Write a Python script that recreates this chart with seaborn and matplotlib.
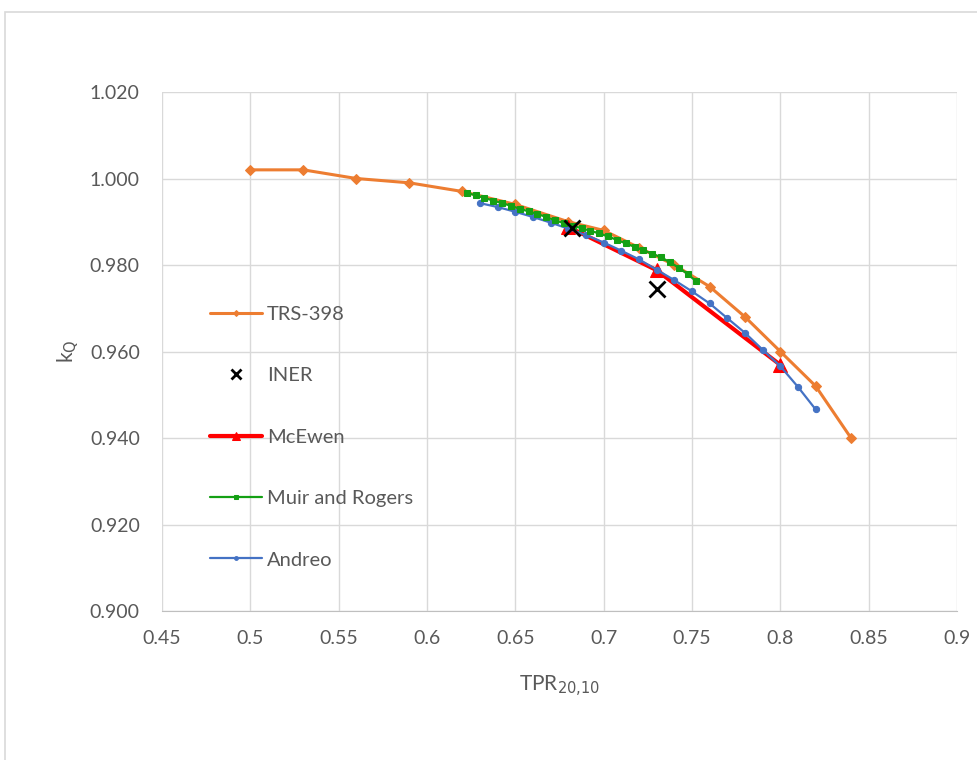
"""
plot.py
kQ vs TPR20,10 comparison chart (TRS-398, INER, McEwen, Muir and Rogers, Andreo).
"""

import numpy as np
import pandas as pd
import matplotlib.pyplot as plt
import matplotlib.patches as mpatches
import seaborn as sns

# ── data ─────────────────────────────────────────────────────────────────────
trs_x = [0.50, 0.53, 0.56, 0.59, 0.62, 0.65, 0.68, 0.70, 0.72, 0.74, 0.76, 0.78, 0.80, 0.82, 0.84]
trs_y = [1.002, 1.002, 1.000, 0.999, 0.997, 0.994, 0.990, 0.988, 0.984, 0.980, 0.975, 0.968, 0.960, 0.952, 0.940]

iner_x = [0.682, 0.730]
iner_y = [0.9886, 0.9744]

mcewen_x = [0.680, 0.730, 0.800]
mcewen_y = [0.9888, 0.9788, 0.9569]

muir_x = [0.6225, 0.6275, 0.6325, 0.6375, 0.6425, 0.6475, 0.6525, 0.6575, 0.6625,
          0.6675, 0.6725, 0.6775, 0.6825, 0.6875, 0.6925, 0.6975, 0.7025, 0.7075,
          0.7125, 0.7175, 0.7225, 0.7275, 0.7325, 0.7375, 0.7425, 0.7475, 0.7525]
muir_y = [0.9967, 0.9961, 0.9955, 0.9949, 0.9943, 0.9937, 0.9930, 0.9924, 0.9918,
          0.9911, 0.9903, 0.9897, 0.9891, 0.9885, 0.9879, 0.9873, 0.9866, 0.9858,
          0.9850, 0.9842, 0.9834, 0.9826, 0.9818, 0.9806, 0.9794, 0.9779, 0.9762]

andreo_x = [0.63, 0.64, 0.65, 0.66, 0.67, 0.68, 0.69, 0.70, 0.71, 0.72,
            0.73, 0.74, 0.75, 0.76, 0.77, 0.78, 0.79, 0.80, 0.81, 0.82]
andreo_y = [0.9943, 0.9934, 0.9923, 0.9911, 0.9898, 0.9884, 0.9869, 0.9852, 0.9833, 0.9813,
            0.9789, 0.9765, 0.9739, 0.9711, 0.9677, 0.9643, 0.9604, 0.9566, 0.9518, 0.9466]

x_ticks = [0.45, 0.5, 0.55, 0.6, 0.65, 0.7, 0.75, 0.8, 0.85, 0.9]
x_tick_labels = ["0.45", "0.5", "0.55", "0.6", "0.65", "0.7", "0.75", "0.8", "0.85", "0.9"]
y_ticks = [0.900, 0.920, 0.940, 0.960, 0.980, 1.000, 1.020]
y_tick_labels = ["0.900", "0.920", "0.940", "0.960", "0.980", "1.000", "1.020"]

ORANGE = "#ED7D31"
RED    = "#FF0000"
GREEN  = "#14A014"
BLUE   = "#4472C4"
GRID   = "#D9D9D9"
TEXT   = "#595959"

sns.set_style("white")
plt.rcParams["font.family"] = ["Lato", "DejaVu Sans"]

fig = plt.figure(figsize=(9.78, 7.6), dpi=100)
ax = fig.add_axes([162 / 978, 1 - 611 / 760, 795 / 978, 519 / 760])

# chart frame (light border)
fig.patches.append(mpatches.Rectangle((5 / 978, -0.1), 1.1, (760 - 12) / 760 + 0.1,
                                      transform=fig.transFigure, fill=False,
                                      edgecolor=GRID, linewidth=1.2))

sns.lineplot(x=trs_x, y=trs_y, ax=ax, color=ORANGE, linewidth=2.2, marker="D",
             markersize=5, markeredgecolor=ORANGE, sort=False, label="TRS-398", zorder=3)
ax.plot(iner_x, iner_y, linestyle="none", marker="x", color="black", markersize=12,
        markeredgewidth=2, label="INER", zorder=6)
sns.lineplot(x=mcewen_x, y=mcewen_y, ax=ax, color=RED, linewidth=3, marker="^",
             markersize=10, markeredgecolor=RED, sort=False, label="McEwen", zorder=4)
sns.lineplot(x=muir_x, y=muir_y, ax=ax, color=GREEN, linewidth=1.6, marker="s",
             markersize=4.5, markeredgecolor=GREEN, sort=False, label="Muir and Rogers", zorder=5)
sns.lineplot(x=andreo_x, y=andreo_y, ax=ax, color=BLUE, linewidth=1.6, marker="o",
             markersize=4.5, markeredgecolor=BLUE, sort=False, label="Andreo", zorder=4)

ax.set_xlim(0.45, 0.9)
ax.set_ylim(0.900, 1.020)
ax.set_xticks(x_ticks)
ax.set_xticklabels(x_tick_labels)
ax.set_yticks(y_ticks)
ax.set_yticklabels(y_tick_labels)
ax.tick_params(axis="both", colors=TEXT, labelsize=14, length=0)
ax.tick_params(axis="x", pad=14)
ax.tick_params(axis="y", pad=16)
ax.grid(True, color=GRID, linewidth=1)
ax.set_axisbelow(True)
for s in ["top", "right", "left"]:
    ax.spines[s].set_visible(False)
ax.spines["bottom"].set_color("#BFBFBF")

ax.set_xlabel("TPR$_{20{,}10}$", fontsize=15, color=TEXT, labelpad=19)
ax.set_ylabel("k$_\\mathrm{Q}$", fontsize=15, color=TEXT, labelpad=6)

handles, labels = ax.get_legend_handles_labels()
leg = ax.legend(handles, labels, loc="upper left", bbox_to_anchor=(0.060, 0.588),
                frameon=False, fontsize=14.5, labelspacing=2.2, handlelength=2.6,
                handletextpad=0.25, borderaxespad=0, borderpad=0, markerscale=0.6)
for t in leg.get_texts():
    t.set_color(TEXT)

plt.savefig("out.png", dpi=100, facecolor="white")
plt.close()
